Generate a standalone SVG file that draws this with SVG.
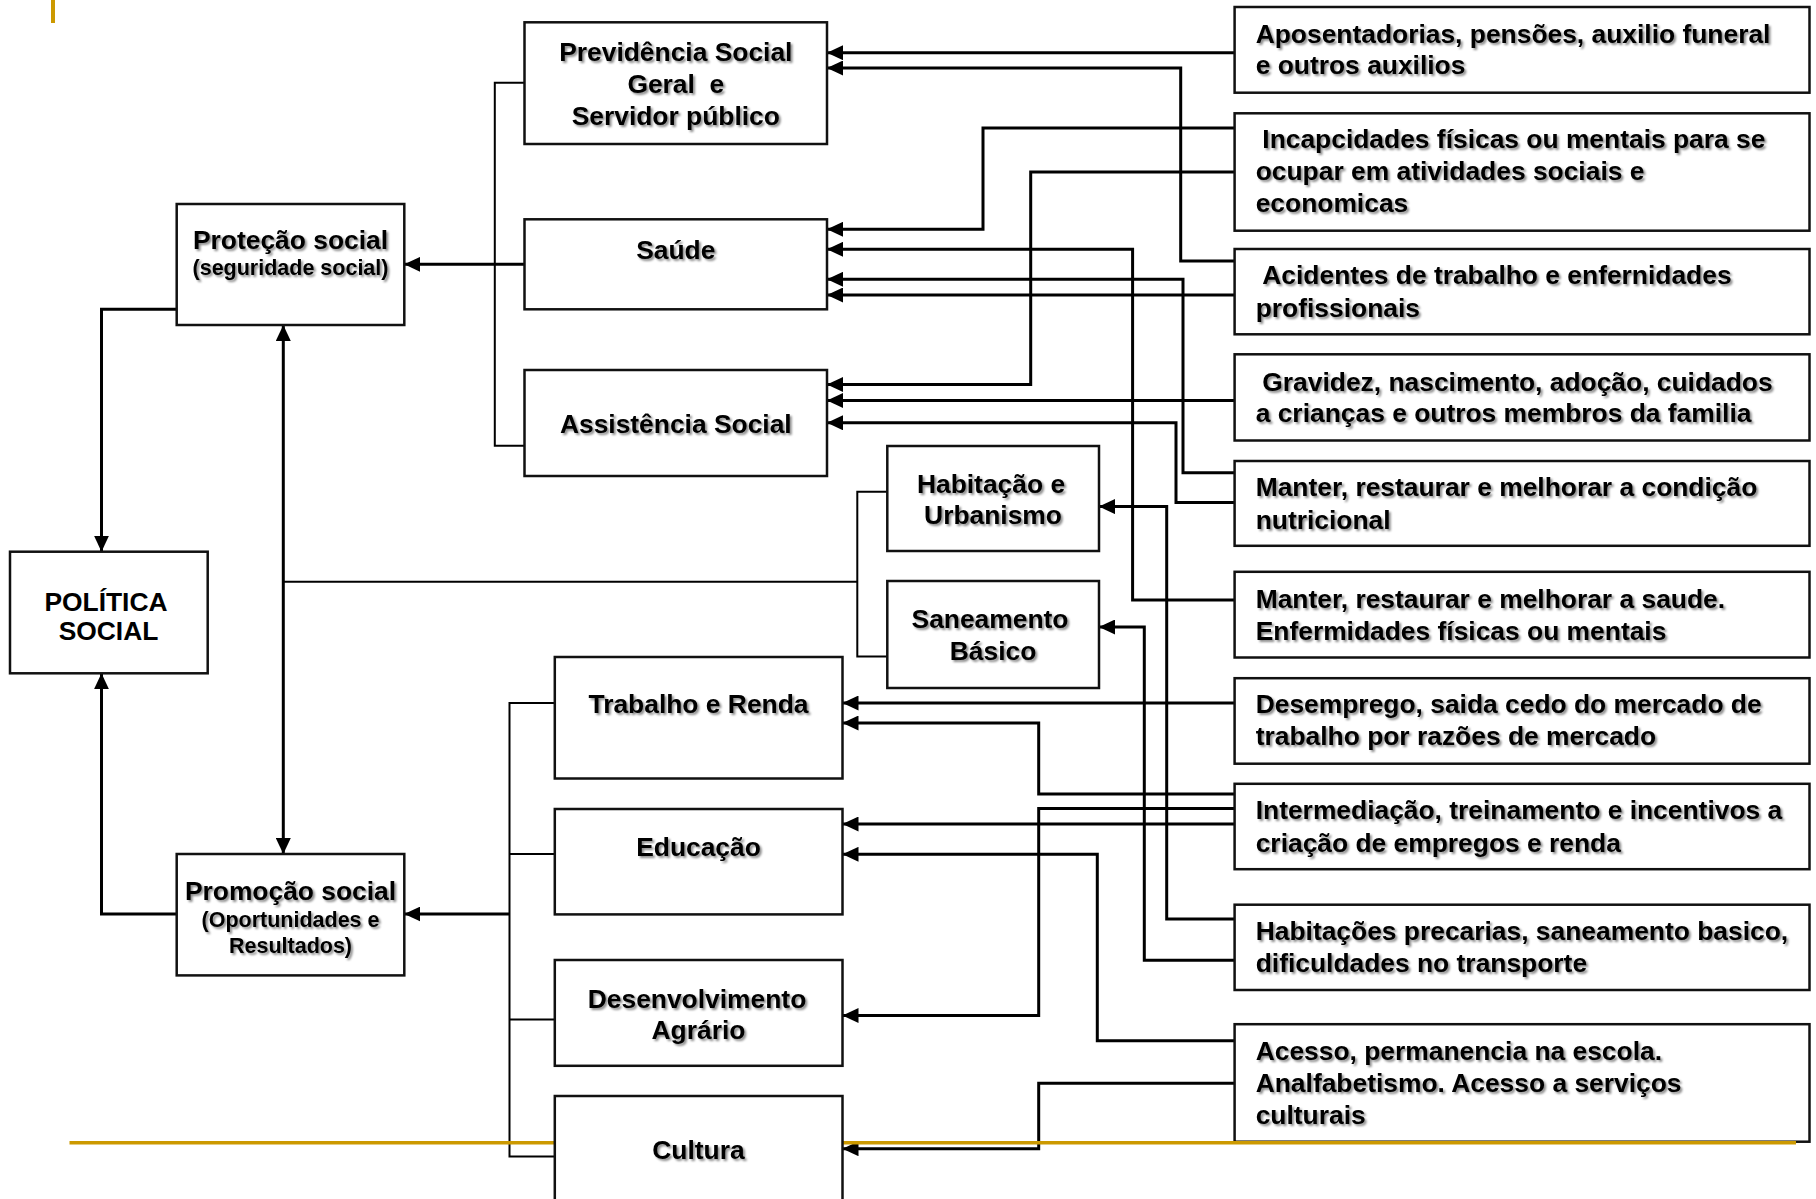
<svg xmlns="http://www.w3.org/2000/svg" width="1816" height="1199" viewBox="0 0 1816 1199">
<style>
.box{fill:#fff;stroke:#111;stroke-width:2.5}
.ln{fill:none;stroke:#000;stroke-width:3;marker-end:url(#ah)}
.br{fill:none;stroke:#000;stroke-width:2}
.t{font-family:"Liberation Sans",Arial,sans-serif;font-weight:bold;font-size:26.4px;fill:#000}
.s{font-size:21.5px}
.c{text-anchor:middle}
.sh{filter:url(#sh)}
.gold{stroke:#CC9900;fill:none}
</style>
<defs>
<marker id="ah" markerUnits="userSpaceOnUse" markerWidth="17" markerHeight="15" refX="16" refY="7.5" orient="auto-start-reverse"><path d="M0,0 L16,7.5 L0,15 z" fill="#000"/></marker>
<filter id="sh" x="-10%" y="-30%" width="120%" height="170%"><feDropShadow dx="2" dy="2" stdDeviation="1.3" flood-color="#000" flood-opacity="0.45"/></filter>
</defs>
<rect width="1816" height="1199" fill="#fff"/>
<line class="gold" x1="53" y1="0" x2="53" y2="23" stroke-width="4"/>

<g id="connectors">
<polyline class="ln" points="176.6,309.3 101.5,309.3 101.5,551.7"/>
<polyline class="ln" points="176.6,914 101.5,914 101.5,673.3"/>
<polyline class="ln" style="marker-start:url(#ah)" points="283.3,325 283.3,854"/>
<polyline class="br" points="283.3,581.7 857.3,581.7"/>
<polyline class="br" points="887.3,491.7 857.3,491.7 857.3,656.6 887.3,656.6"/>
<polyline class="br" points="524.5,82.7 494.8,82.7 494.8,445.7 524.5,445.7"/>
<polyline class="ln" points="524.5,264.3 404.3,264.3"/>
<polyline class="br" points="554.8,703 509.5,703 509.5,1156.5 554.8,1156.5"/>
<polyline class="br" points="509.5,853.9 554.8,853.9"/>
<polyline class="br" points="509.5,1019.5 554.8,1019.5"/>
<polyline class="ln" points="509.5,914 404.3,914"/>

<polyline class="ln" points="1234.6,52.7 827,52.7"/>
<polyline class="ln" points="1234.6,261 1180.7,261 1180.7,68 827,68"/>
<polyline class="ln" points="1234.6,128 983,128 983,229.3 827,229.3"/>
<polyline class="ln" points="1234.6,600 1132.6,600 1132.6,249.3 827,249.3"/>
<polyline class="ln" points="1234.6,472.7 1183,472.7 1183,279.3 827,279.3"/>
<polyline class="ln" points="1234.6,295 827,295"/>
<polyline class="ln" points="1234.6,172 1030.7,172 1030.7,384.5 827,384.5"/>
<polyline class="ln" points="1234.6,400.5 827,400.5"/>
<polyline class="ln" points="1234.6,502.5 1176,502.5 1176,422.8 827,422.8"/>
<polyline class="ln" points="1234.6,919 1166.7,919 1166.7,506.6 1099,506.6"/>
<polyline class="ln" points="1234.6,960.3 1144.3,960.3 1144.3,627 1099,627"/>
<polyline class="ln" points="1234.6,703 842.5,703"/>
<polyline class="ln" points="1234.6,794 1038.7,794 1038.7,723 842.5,723"/>
<polyline class="ln" points="1234.6,824 842.5,824"/>
<polyline class="ln" points="1234.6,1040.7 1097.3,1040.7 1097.3,854.3 842.5,854.3"/>
<polyline class="ln" points="1234.6,808.4 1038.7,808.4 1038.7,1015.5 842.5,1015.5"/>
<polyline class="ln" points="1234.6,1083.2 1038.7,1083.2 1038.7,1148.7 842.5,1148.7"/>
</g>

<g id="politica-social">
<rect class="box" x="10" y="551.7" width="197.7" height="121.6"/>
<text class="t c" x="106" y="610.7">POLÍTICA</text>
<text class="t c" x="108.5" y="640">SOCIAL</text>
</g>
<g id="protecao-social">
<rect class="box" x="176.7" y="204" width="227.6" height="121"/>
<g class="sh"><text class="t c" x="290.5" y="249">Proteção social</text>
<text class="t s c" x="290.5" y="275">(seguridade social)</text></g>
</g>
<g id="promocao-social">
<rect class="box" x="176.7" y="854" width="227.6" height="121.4"/>
<g class="sh"><text class="t c" x="290.5" y="899.5">Promoção social</text>
<text class="t s c" x="290.5" y="927">(Oportunidades e</text>
<text class="t s c" x="290.5" y="952.5">Resultados)</text></g>
</g>
<g id="previdencia">
<rect class="box" x="524.5" y="22.3" width="302.5" height="121.7"/>
<g class="sh"><text class="t c" x="675.8" y="61" xml:space="preserve">Previdência Social</text>
<text class="t c" x="675.8" y="92.7" xml:space="preserve">Geral  e</text>
<text class="t c" x="675.8" y="125">Servidor público</text></g>
</g>
<g id="saude">
<rect class="box" x="524.5" y="219.3" width="302.5" height="90"/>
<text class="t c sh" x="675.8" y="258.5">Saúde</text>
</g>
<g id="assistencia">
<rect class="box" x="524.5" y="370" width="302.5" height="106"/>
<text class="t c sh" x="675.8" y="433">Assistência Social</text>
</g>
<g id="habitacao">
<rect class="box" x="887.3" y="446" width="211.7" height="105"/>
<g class="sh"><text class="t c" x="991" y="492.7">Habitação e</text>
<text class="t c" x="993" y="524">Urbanismo</text></g>
</g>
<g id="saneamento">
<rect class="box" x="887.3" y="581" width="211.7" height="107"/>
<g class="sh"><text class="t c" x="990" y="628">Saneamento</text>
<text class="t c" x="993" y="659.5">Básico</text></g>
</g>
<g id="trabalho">
<rect class="box" x="554.8" y="657" width="287.7" height="121.5"/>
<text class="t c sh" x="698.5" y="712.5">Trabalho e Renda</text>
</g>
<g id="educacao">
<rect class="box" x="554.8" y="809" width="287.7" height="105.4"/>
<text class="t c sh" x="698.5" y="856">Educação</text>
</g>
<g id="desenvolvimento">
<rect class="box" x="554.8" y="960" width="287.7" height="105.8"/>
<g class="sh"><text class="t c" x="697" y="1007.5">Desenvolvimento</text>
<text class="t c" x="698.5" y="1038.5">Agrário</text></g>
</g>

<g id="r1"><rect class="box" x="1234.6" y="7" width="574.9" height="85.7"/>
<g class="sh"><text class="t" x="1255.7" y="42.7">Aposentadorias, pensões, auxilio funeral</text>
<text class="t" x="1255.7" y="73.5">e outros auxilios</text></g></g>
<g id="r2"><rect class="box" x="1234.6" y="113.3" width="574.9" height="117.4"/>
<g class="sh"><text class="t" x="1262.3" y="148.3">Incapcidades físicas ou mentais para se</text>
<text class="t" x="1255.7" y="180">ocupar em atividades sociais e</text>
<text class="t" x="1255.7" y="211.5">economicas</text></g></g>
<g id="r3"><rect class="box" x="1234.6" y="249" width="574.9" height="85.3"/>
<g class="sh"><text class="t" x="1262.3" y="284">Acidentes de trabalho e enfernidades</text>
<text class="t" x="1255.7" y="316.5">profissionais</text></g></g>
<g id="r4"><rect class="box" x="1234.6" y="354.3" width="574.9" height="86.2"/>
<g class="sh"><text class="t" x="1262.3" y="390.7">Gravidez, nascimento, adoção, cuidados</text>
<text class="t" x="1255.7" y="422">a crianças e outros membros da familia</text></g></g>
<g id="r5"><rect class="box" x="1234.6" y="461" width="574.9" height="84.8"/>
<g class="sh"><text class="t" x="1255.7" y="496">Manter, restaurar e melhorar a condição</text>
<text class="t" x="1255.7" y="528.5">nutricional</text></g></g>
<g id="r6"><rect class="box" x="1234.6" y="571.8" width="574.9" height="85.7"/>
<g class="sh"><text class="t" x="1255.7" y="607.5">Manter, restaurar e melhorar a saude.</text>
<text class="t" x="1255.7" y="639.7">Enfermidades físicas ou mentais</text></g></g>
<g id="r7"><rect class="box" x="1234.6" y="678.2" width="574.9" height="85.5"/>
<g class="sh"><text class="t" x="1255.7" y="712.7">Desemprego, saida cedo do mercado de</text>
<text class="t" x="1255.7" y="745">trabalho por razões de mercado</text></g></g>
<g id="r8"><rect class="box" x="1234.6" y="783.8" width="574.9" height="85.4"/>
<g class="sh"><text class="t" x="1255.7" y="819.2">Intermediação, treinamento e incentivos a</text>
<text class="t" x="1255.7" y="851.7">criação de empregos e renda</text></g></g>
<g id="r9"><rect class="box" x="1234.6" y="904.7" width="574.9" height="85.3"/>
<g class="sh"><text class="t" x="1255.7" y="939.7">Habitações precarias, saneamento basico,</text>
<text class="t" x="1255.7" y="972">dificuldades no transporte</text></g></g>
<g id="r10"><rect class="box" x="1234.6" y="1024.2" width="574.9" height="117.5"/>
<g class="sh"><text class="t" x="1255.7" y="1059.5">Acesso, permanencia na escola.</text>
<text class="t" x="1255.7" y="1091.5">Analfabetismo. Acesso a serviços</text>
<text class="t" x="1255.7" y="1123.5">culturais</text></g></g>

<line class="gold" x1="69.5" y1="1142.7" x2="1796" y2="1142.7" stroke-width="3.5"/>
<g id="cultura">
<rect class="box" x="554.8" y="1096" width="287.7" height="120"/>
<text class="t c sh" x="698.5" y="1159">Cultura</text>
</g>
</svg>
